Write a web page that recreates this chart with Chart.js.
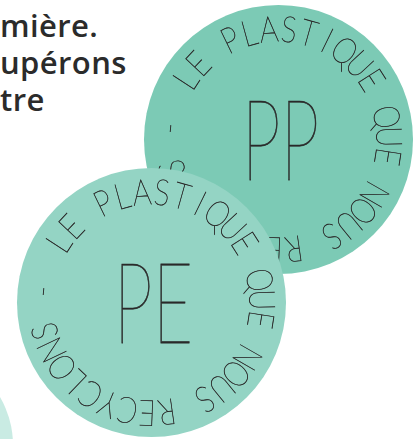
<!DOCTYPE html>
<html>
<head>
<meta charset="utf-8">
<script src="https://cdn.jsdelivr.net/npm/chart.js@4"></script>
<style>
  html, body { margin: 0; padding: 0; background: #fff; }
  body { width: 419px; height: 439px; position: relative; overflow: hidden; }
  #chart { position: absolute; left: 0; top: 0; }
  #intro {
    position: absolute; left: 0; top: 7px;
    font-family: "Open Sans", sans-serif; font-weight: 600;
    font-size: 31px; line-height: 37px; color: #2b2b2b;
    letter-spacing: 0.4px;
    white-space: nowrap;
  }
</style>
</head>
<body>
<div id="intro"></div>
<canvas id="chart" width="419" height="439"></canvas>
<script>
// circles, top one first
const circleLabels = ['PE', 'PP', ''];
const circleX = [151.5, 278.5, -82];
const circleY = [302.5, 139.5, 445];
const circleR = [134.5, 134.5, 95];
const circleColors = ['#94d4c4', '#7ccab5', '#c9ebe3'];
const ringText = 'LE PLASTIQUE QUE NOUS RECYCLONS - ';
const introLines = ['mière.', 'upérons', 'tre'];

document.addEventListener('DOMContentLoaded', async () => {
    document.getElementById('intro').innerHTML = introLines.join('<br>');

    try {
        await Promise.all([
            document.fonts.load('200 36px Lato'),
            document.fonts.load('600 31px "Open Sans"')
        ]);
    } catch (e) {
        console.error(e);
    }

    // draws the ring text and the big label on each circle, right after it
    const stampPlugin = {
        id: 'stamp',
        afterDatasetDraw(chart, args) {
            const label = circleLabels[args.index];
            if (!label) return;
            const pt = args.meta.data[0];
            const ctx = chart.ctx;
            ctx.save();
            ctx.fillStyle = '#2a2a2a';
            ctx.strokeStyle = '#2a2a2a';

            // ring text, clockwise, tops pointing out, a bit condensed
            ctx.font = '200 36px Lato, "DejaVu Sans", sans-serif';
            ctx.textAlign = 'center';
            ctx.textBaseline = 'alphabetic';
            ctx.lineWidth = 0.5;
            const start = -147;
            const step = 10.4;
            const baseR = 98;
            for (let i = 0; i < ringText.length; i++) {
                const a = (start + i * step) * Math.PI / 180;
                ctx.save();
                ctx.translate(pt.x + baseR * Math.cos(a), pt.y + baseR * Math.sin(a));
                ctx.rotate(a + Math.PI / 2);
                ctx.scale(0.82, 1);
                ctx.fillText(ringText[i], 0, 0);
                ctx.strokeText(ringText[i], 0, 0);
                ctx.restore();
            }

            // big centre label, condensed
            ctx.font = '200 112px Lato, "DejaVu Sans", sans-serif';
            ctx.textBaseline = 'middle';
            ctx.lineWidth = 0.8;
            ctx.translate(pt.x + 2, pt.y + 4);
            ctx.scale(0.62, 1);
            ctx.fillText(label, 0, 0);
            ctx.strokeText(label, 0, 0);
            ctx.restore();
        }
    };

    const datasets = circleLabels.map((lab, i) => ({
        label: lab || 'deco',
        data: [{ x: circleX[i], y: circleY[i], r: circleR[i] }],
        backgroundColor: circleColors[i],
        borderWidth: 0,
        hoverRadius: 0,
        clip: false
    }));

    new Chart(document.getElementById('chart'), {
        type: 'bubble',
        data: { datasets },
        options: {
            responsive: false,
            animation: false,
            events: [],
            layout: { padding: 0, autoPadding: false },
            plugins: { legend: { display: false }, tooltip: { enabled: false } },
            scales: {
                x: { type: 'linear', min: 0, max: 419, display: false },
                y: { type: 'linear', min: 0, max: 439, reverse: true, display: false }
            }
        },
        plugins: [stampPlugin]
    });
});
</script>
</body>
</html>
